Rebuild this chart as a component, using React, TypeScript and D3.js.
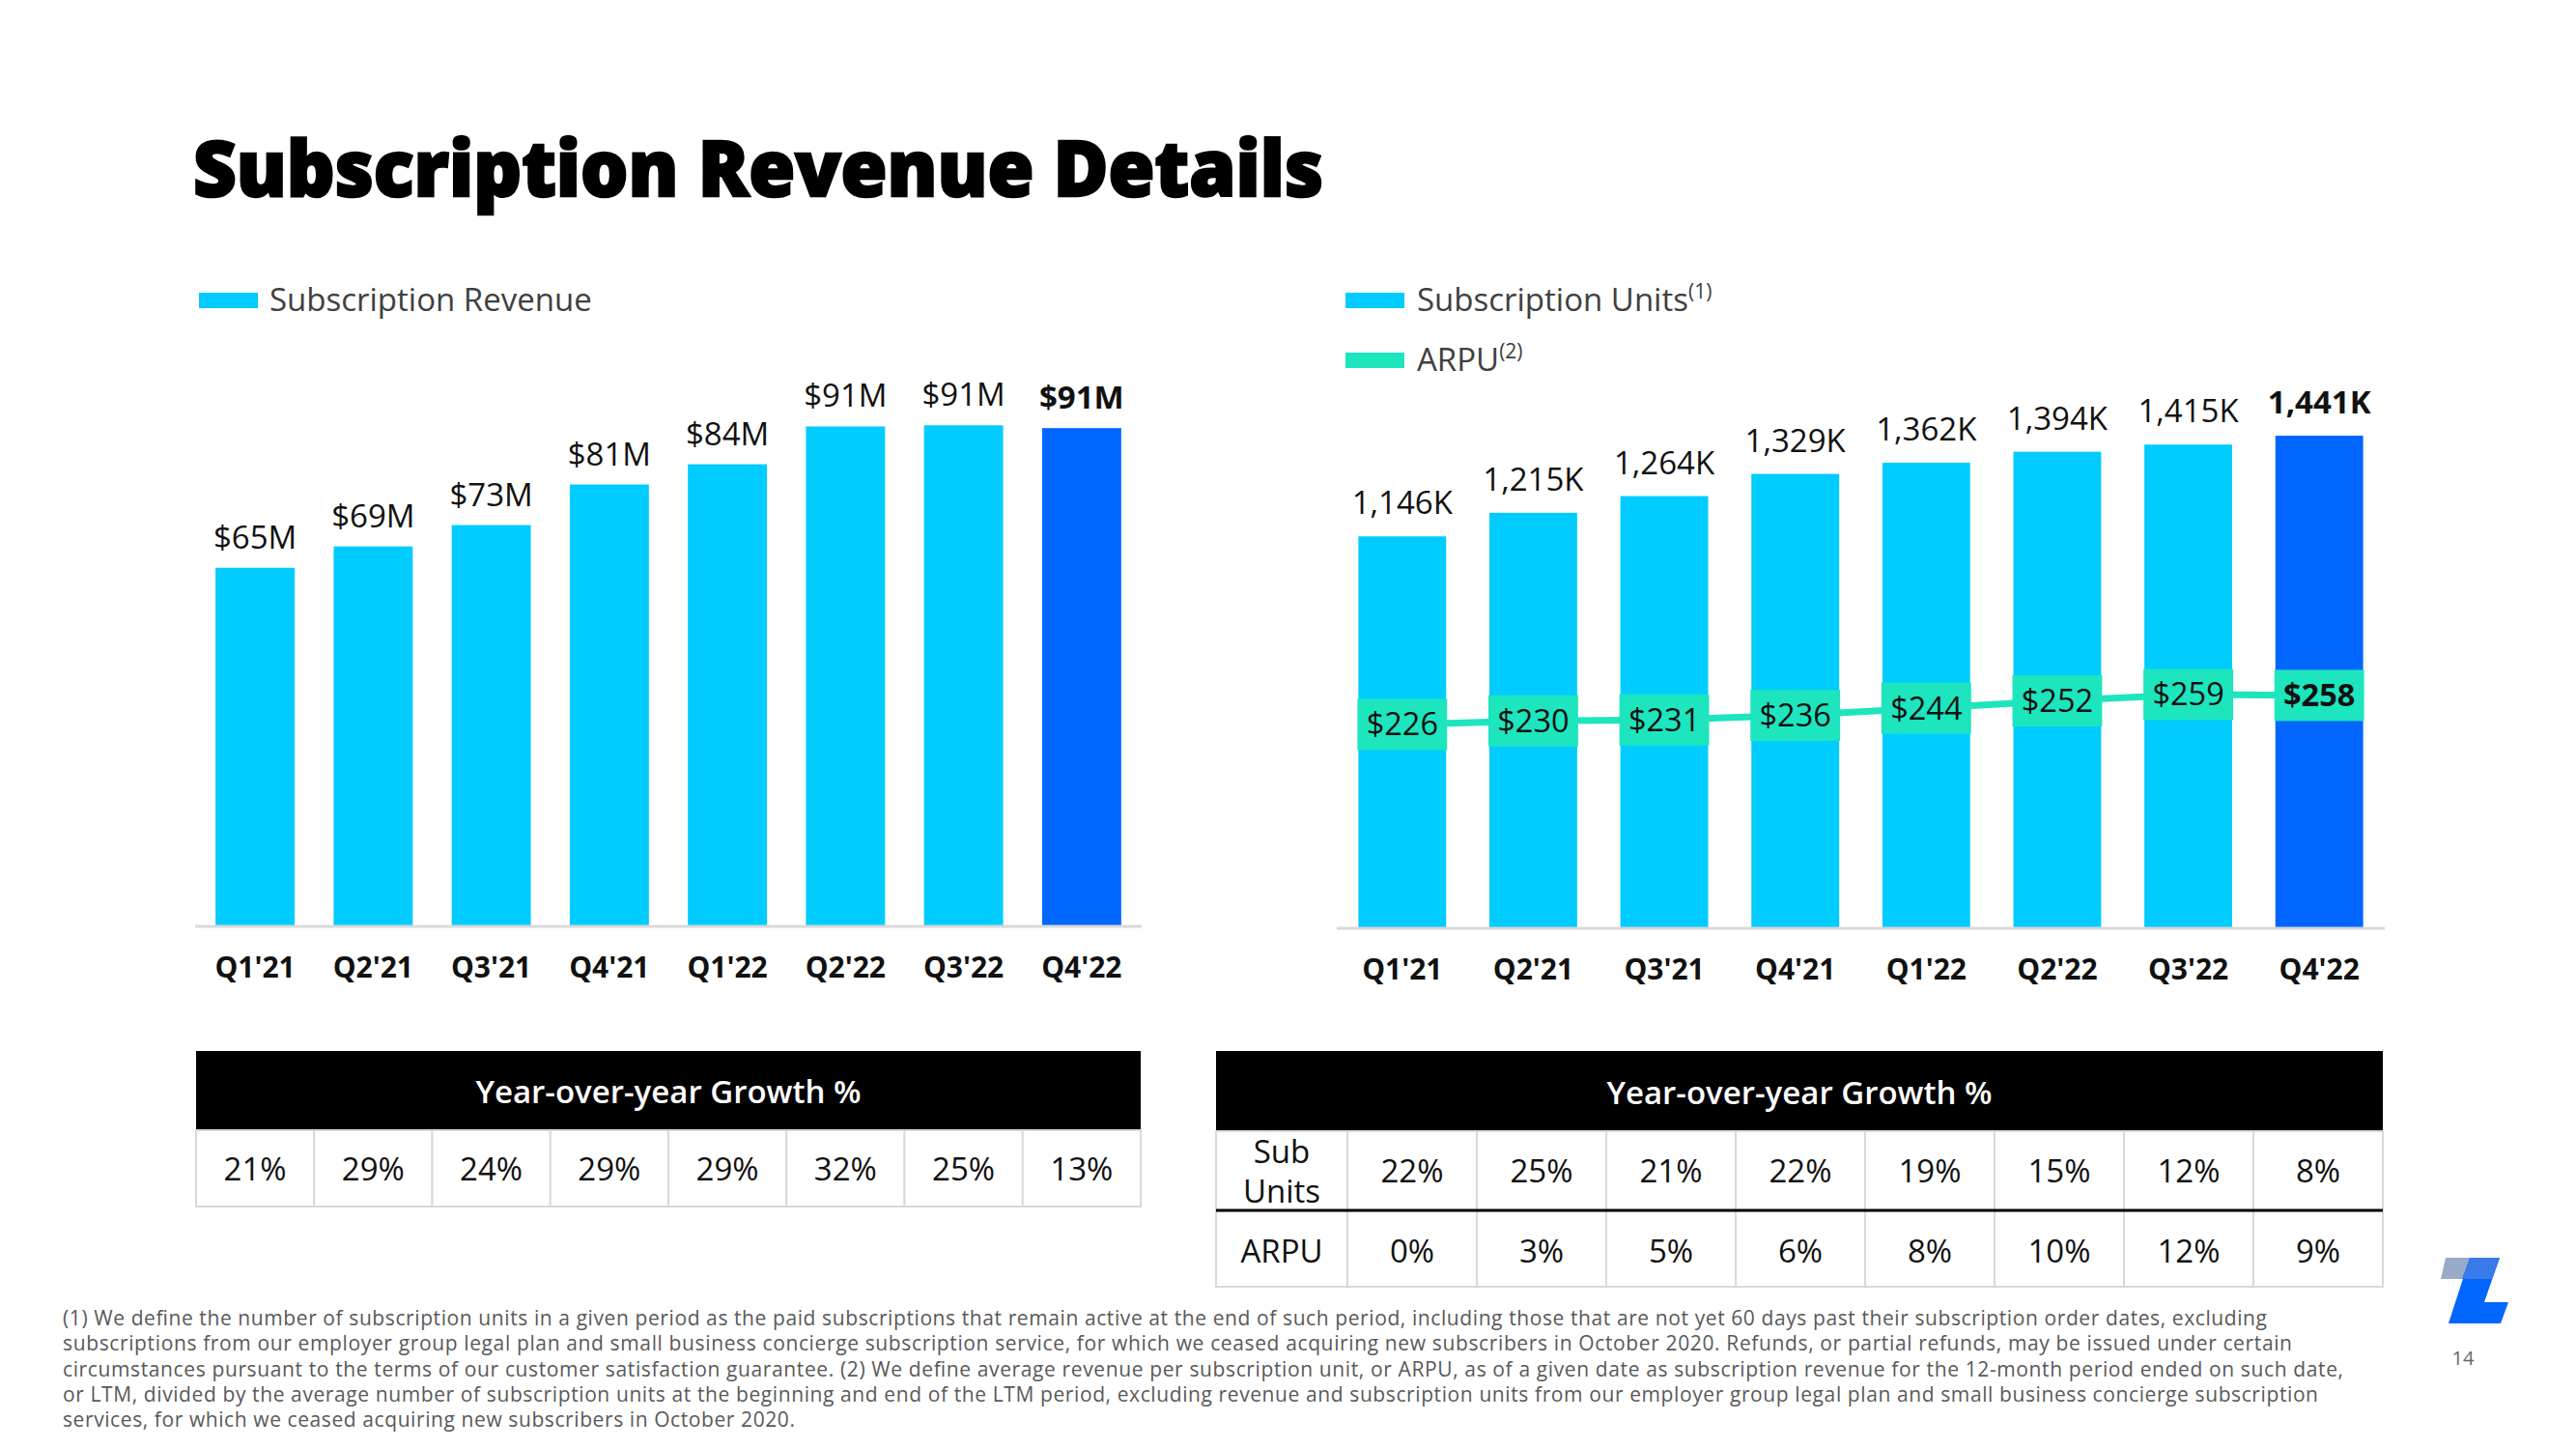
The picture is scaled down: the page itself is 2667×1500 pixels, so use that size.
import React from "react";
import * as d3 from "d3";

const quarters = ["Q1'21", "Q2'21", "Q3'21", "Q4'21", "Q1'22", "Q2'22", "Q3'22", "Q4'22"];
const revenue = [65.3, 69.2, 73.1, 80.5, 84.2, 91.1, 91.3, 90.8];
const revenueLabels = ["$65M", "$69M", "$73M", "$81M", "$84M", "$91M", "$91M", "$91M"];
const revenueGrowth = ["21%", "29%", "24%", "29%", "29%", "32%", "25%", "13%"];
const units = [1146, 1215, 1264, 1329, 1362, 1394, 1415, 1441];
const arpu = [226, 230, 231, 236, 244, 252, 259, 258];
const unitsGrowth = ["22%", "25%", "21%", "22%", "19%", "15%", "12%", "8%"];
const arpuGrowth = ["0%", "3%", "5%", "6%", "8%", "10%", "12%", "9%"];

const footnotes = [
  "(1) We define the number of subscription units in a given period as the paid subscriptions that remain active at the end of such period, including those that are not yet 60 days past their subscription order dates, excluding",
  "subscriptions from our employer group legal plan and small business concierge subscription service, for which we ceased acquiring new subscribers in October 2020.  Refunds, or partial refunds, may be issued under certain",
  "circumstances pursuant to the terms of our customer satisfaction guarantee. (2) We define average revenue per subscription unit, or ARPU, as of a given date as subscription revenue for the 12-month period ended on such date,",
  "or LTM, divided by the average number of subscription units at the beginning and end of the LTM period, excluding revenue and subscription units from our employer group legal plan and small business concierge subscription",
  "services, for which we ceased acquiring new subscribers in October 2020.",
];
const footnoteEnds = [2347, 2373, 2426, 2400, 823];

const LIGHT = "#00CCFF";
const DARK = "#0066FF";
const TEAL = "#1DE5BE";
const FONT = "'Open Sans', sans-serif";

export default function App() {
  const last = quarters.length - 1;

  const xL = d3.scaleBand<string>().domain(quarters).range([203, 1181]).paddingInner(0.33).paddingOuter(0.165);
  const yL = d3.scaleLinear().domain([0, 100]).range([958, 391]);

  const xR = d3.scaleBand<string>().domain(quarters).range([1384, 2469]).paddingInner(0.33).paddingOuter(0.165);
  const yR = d3.scaleLinear().domain([0, 1500]).range([960, 430.2]);
  const yA = d3.scaleLinear().domain([200, 300]).range([774.4, 680.4]);

  const tL = d3.scaleBand<string>().domain(quarters).range([203, 1181]);
  const tR = d3.scaleBand<string>().domain(quarters).range([1395, 2467]);

  const arpuLine = d3
    .line<number>()
    .x((_, i) => (xR(quarters[i]) as number) + xR.bandwidth() / 2)
    .y((d) => yA(d));

  const cx = (s: d3.ScaleBand<string>, q: string) => (s(q) as number) + s.bandwidth() / 2;

  return (
    <svg width={2667} height={1500} style={{ position: "absolute", left: 0, top: 0, background: "#fff" }} fontFamily={FONT}>
      {/* Title */}
      <text x={200} y={203} fontSize={80} fontWeight={800} fill="#000" stroke="#000" strokeWidth={2.5} textLength={1170} lengthAdjust="spacingAndGlyphs">
        Subscription Revenue Details
      </text>

      {/* Left legend */}
      <rect x={206} y={303} width={61} height={16} fill={LIGHT} />
      <text x={279} y={322} fontSize={33} fill="#404040">Subscription Revenue</text>

      {/* Right legend */}
      <rect x={1393} y={303} width={61} height={16} fill={LIGHT} />
      <text x={1467} y={322} fontSize={33} fill="#404040">
        Subscription Units<tspan fontSize={21} dy={-13}>(1)</tspan>
      </text>
      <rect x={1393} y={365} width={61} height={16} fill={TEAL} />
      <text x={1467} y={384} fontSize={33} fill="#404040">
        ARPU<tspan fontSize={21} dy={-13}>(2)</tspan>
      </text>

      {/* Left chart bars */}
      {quarters.map((q, i) => (
        <g key={"lb" + q}>
          <rect x={xL(q)} y={yL(revenue[i])} width={xL.bandwidth()} height={yL(0) - yL(revenue[i])} fill={i === last ? DARK : LIGHT} />
          <text x={cx(xL, q)} y={yL(revenue[i]) - 20} fontSize={33} textAnchor="middle" fill="#111" fontWeight={i === last ? 700 : 400}>
            {revenueLabels[i]}
          </text>
          <text x={cx(xL, q)} y={1012} fontSize={30} fontWeight={700} textAnchor="middle" fill="#111">{q}</text>
        </g>
      ))}
      <line x1={202} x2={1182} y1={959} y2={959} stroke="#d9d9d9" strokeWidth={3} />

      {/* Right chart bars */}
      {quarters.map((q, i) => (
        <g key={"rb" + q}>
          <rect x={xR(q)} y={yR(units[i])} width={xR.bandwidth()} height={yR(0) - yR(units[i])} fill={i === last ? DARK : LIGHT} />
          <text x={cx(xR, q)} y={yR(units[i]) - 23} fontSize={33} textAnchor="middle" fill="#111" fontWeight={i === last ? 700 : 400}>
            {d3.format(",")(units[i]) + "K"}
          </text>
          <text x={cx(xR, q)} y={1014} fontSize={30} fontWeight={700} textAnchor="middle" fill="#111">{q}</text>
        </g>
      ))}
      <line x1={1384} x2={2469} y1={961} y2={961} stroke="#d9d9d9" strokeWidth={3} />

      {/* ARPU line */}
      <path d={arpuLine(arpu) || ""} fill="none" stroke={TEAL} strokeWidth={7} />
      {quarters.map((q, i) => (
        <g key={"ap" + q}>
          <rect x={(xR(q) as number) - 1} y={yA(arpu[i]) - 26.5} width={xR.bandwidth() + 2} height={53} fill={TEAL} />
          <text x={cx(xR, q)} y={yA(arpu[i]) + 11.5} fontSize={32.5} textAnchor="middle" fill="#111" fontWeight={i === last ? 700 : 400}>
            {"$" + arpu[i]}
          </text>
        </g>
      ))}

      {/* Left table */}
      <rect x={203} y={1088} width={978} height={82} fill="#000" />
      <text x={692} y={1142} fontSize={33} fontWeight={600} fill="#fff" textAnchor="middle">Year-over-year Growth %</text>
      {quarters.map((q, i) => (
        <g key={"lt" + q}>
          <rect x={tL(q)} y={1170} width={tL.bandwidth()} height={79} fill="#fff" stroke="#d9d9d9" strokeWidth={2} />
          <text x={cx(tL, q)} y={1222} fontSize={33} textAnchor="middle" fill="#111">{revenueGrowth[i]}</text>
        </g>
      ))}

      {/* Right table */}
      <rect x={1259} y={1088} width={1208} height={83} fill="#000" />
      <text x={1863} y={1143} fontSize={33} fontWeight={600} fill="#fff" textAnchor="middle">Year-over-year Growth %</text>
      <rect x={1259} y={1171} width={136} height={82} fill="#fff" stroke="#d9d9d9" strokeWidth={2} />
      <rect x={1259} y={1253} width={136} height={79} fill="#fff" stroke="#d9d9d9" strokeWidth={2} />
      <text x={1327} y={1204} fontSize={33} textAnchor="middle" fill="#111">Sub</text>
      <text x={1327} y={1245} fontSize={33} textAnchor="middle" fill="#111">Units</text>
      <text x={1327} y={1307} fontSize={33} textAnchor="middle" fill="#111">ARPU</text>
      {quarters.map((q, i) => (
        <g key={"rt" + q}>
          <rect x={tR(q)} y={1171} width={tR.bandwidth()} height={82} fill="#fff" stroke="#d9d9d9" strokeWidth={2} />
          <rect x={tR(q)} y={1253} width={tR.bandwidth()} height={79} fill="#fff" stroke="#d9d9d9" strokeWidth={2} />
          <text x={cx(tR, q)} y={1224} fontSize={33} textAnchor="middle" fill="#111">{unitsGrowth[i]}</text>
          <text x={cx(tR, q)} y={1307} fontSize={33} textAnchor="middle" fill="#111">{arpuGrowth[i]}</text>
        </g>
      ))}
      <line x1={1259} x2={2467} y1={1253} y2={1253} stroke="#000" strokeWidth={3} />

      {/* Footnotes */}
      {footnotes.map((t, i) => (
        <text key={"fn" + i} x={65} y={1372 + i * 26.3} fontSize={21} fill="#595959" textLength={footnoteEnds[i] - 65} lengthAdjust="spacing">
          {t}
        </text>
      ))}

      {/* Logo */}
      <polygon points="2532,1302 2558,1302 2553,1324 2527,1324" fill="#9AABC9" />
      <polygon points="2557,1302 2588,1302 2572,1348 2597,1348 2589,1370 2535,1370" fill={DARK} />
      <polygon points="2557,1302 2588,1302 2580,1324 2549,1324" fill="#3A7AE8" />
      <text x={2550} y={1413} fontSize={20} textAnchor="middle" fill="#666">14</text>
    </svg>
  );
}
